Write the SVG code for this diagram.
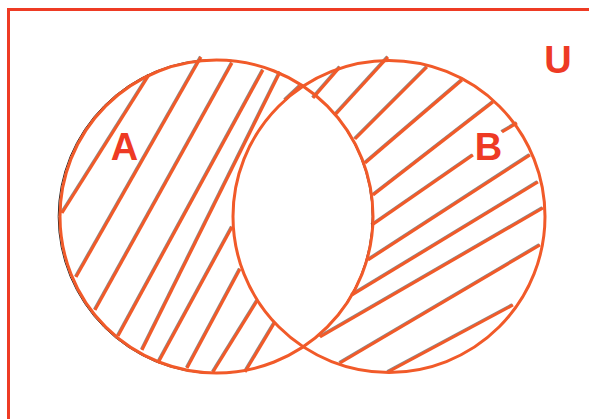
<svg xmlns="http://www.w3.org/2000/svg" xmlns:xlink="http://www.w3.org/1999/xlink" width="589" height="419" viewBox="0 0 589 419">
  <style>
    .frame { fill: none; stroke: #EE3B24; stroke-width: 3; }
    .circ { fill: none; stroke: #F15A29; stroke-width: 3; }
    .circShadow { fill: none; stroke: #222; stroke-width: 1; }
    .hatch { stroke: #F15A29; stroke-width: 3; stroke-linecap: butt; fill: none; }
    .hatchShadow { stroke: #8a8a8a; stroke-width: 2; fill: none; }
    .lbl { font-family: "Liberation Sans", Arial, sans-serif; font-weight: bold; font-size: 38px; fill: #EE3A24; text-anchor: middle; }
  </style>
  <defs>
    <g id="hatchA">
      <line x1="62" y1="213" x2="149" y2="75"/>
      <line x1="76" y1="277" x2="201" y2="57"/>
      <line x1="95" y1="310" x2="232" y2="63"/>
      <line x1="118" y1="336" x2="263" y2="70"/>
      <line x1="142" y1="350" x2="280" y2="72"/>
      <line x1="158" y1="363" x2="232" y2="227"/>
      <line x1="187" y1="368" x2="240" y2="269"/>
      <line x1="213" y1="372" x2="257" y2="301"/>
      <line x1="245" y1="372" x2="275" y2="322"/>
      <line x1="285" y1="100" x2="300" y2="86"/>
    </g>
    <g id="hatchB">
      <line x1="313" y1="98" x2="340" y2="67"/>
      <line x1="335" y1="115" x2="388" y2="57"/>
      <line x1="355" y1="139" x2="427" y2="67"/>
      <line x1="365" y1="163" x2="462" y2="80"/>
      <line x1="373" y1="195" x2="493" y2="102"/>
      <line x1="372" y1="225" x2="473" y2="155"/>
      <line x1="502" y1="132" x2="517" y2="123"/>
      <line x1="368" y1="260" x2="530" y2="155"/>
      <line x1="352" y1="295" x2="538" y2="182"/>
      <line x1="320" y1="337" x2="543" y2="208"/>
      <line x1="340" y1="363" x2="540" y2="245"/>
      <line x1="388" y1="372" x2="513" y2="305"/>
    </g>
  </defs>

  <g id="universe">
    <path class="frame" d="M8.5,419 V9.5 H589"/>
    <text class="lbl" x="558" y="73">U</text>
  </g>

  <g id="hatching">
    <use xlink:href="#hatchA" class="hatchShadow" transform="translate(-1,-0.8)"/>
    <use xlink:href="#hatchA" class="hatch"/>
    <use xlink:href="#hatchB" class="hatchShadow" transform="translate(-1,-0.8)"/>
    <use xlink:href="#hatchB" class="hatch"/>
  </g>

  <g id="setA">
    <circle class="circShadow" cx="215.2" cy="216.5" r="157"/>
    <circle class="circ" cx="216.5" cy="216.5" r="156.5"/>
    <text class="lbl" x="124.5" y="160">A</text>
  </g>

  <g id="setB">
    <circle class="circ" cx="389" cy="216.5" r="156"/>
    <text class="lbl" x="488.5" y="160">B</text>
  </g>
</svg>
